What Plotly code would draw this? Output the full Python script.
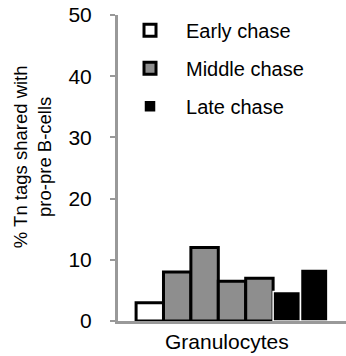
import plotly.graph_objects as go

# Data
groups = ["Early chase", "Middle chase", "Late chase"]
early_x = ["E1"]
early_y = [3.0]
middle_x = ["M1", "M2", "M3", "M4"]
middle_y = [8.0, 12.0, 6.5, 7.0]
late_x = ["L1", "L2"]
late_y = [4.8, 8.5]
categories = early_x + middle_x + late_x
y_ticks = [0, 10, 20, 30, 40, 50]
x_label = "Granulocytes"
y_label = "% Tn tags shared with<br>pro-pre B-cells"

FONT = "Liberation Sans, Arial, sans-serif"

fig = go.Figure()
fig.add_trace(go.Bar(
    x=early_x, y=early_y, name=groups[0], legendgroup="g1",
    width=1.0,
    marker=dict(color="white", line=dict(color="black", width=3)),
))
fig.add_trace(go.Bar(
    x=middle_x, y=middle_y, name=groups[1], legendgroup="g2",
    width=1.0,
    marker=dict(color="#8e8e8e", line=dict(color="black", width=3)),
))
fig.add_trace(go.Bar(
    x=late_x, y=late_y, name=groups[2], legendgroup="g3",
    width=1.0,
    marker=dict(color="black", line=dict(color="white", width=1.5)),
))

fig.update_layout(
    width=346, height=356,
    margin=dict(l=118, r=0, t=15, b=35),
    paper_bgcolor="white", plot_bgcolor="white",
    barmode="overlay",
    font=dict(family=FONT, size=20, color="black"),
    showlegend=True,
    legend=dict(
        x=-0.0175, y=1.014, xanchor="left", yanchor="top",
        bgcolor="rgba(0,0,0,0)",
        font=dict(family=FONT, size=20, color="black"),
        itemwidth=62,
        tracegroupgap=9,
        traceorder="grouped",
    ),
    xaxis=dict(
        type="category",
        categoryorder="array", categoryarray=categories,
        range=[-1.16, 7.16],
        showticklabels=False, ticks="",
        showline=True, linecolor="#999999", linewidth=3,
        showgrid=False, zeroline=False,
    ),
    yaxis=dict(
        range=[0, 50], tickvals=y_ticks,
        ticks="outside", ticklen=5, tickwidth=2, tickcolor="#999999",
        ticklabelstandoff=14,
        tickfont=dict(family=FONT, size=21, color="black"),
        showline=True, linecolor="#999999", linewidth=3,
        showgrid=False, zeroline=False,
    ),
    annotations=[
        dict(text=y_label, xref="paper", yref="paper",
             x=-0.372, y=0.536, xanchor="center", yanchor="middle",
             textangle=-90, showarrow=False,
             font=dict(family=FONT, size=18.5, color="black")),
        dict(text=x_label, xref="paper", yref="paper",
             x=0.478, y=-0.0686, xanchor="center", yanchor="middle",
             showarrow=False,
             font=dict(family=FONT, size=21, color="black")),
    ],
)

fig.write_html("out.html")
